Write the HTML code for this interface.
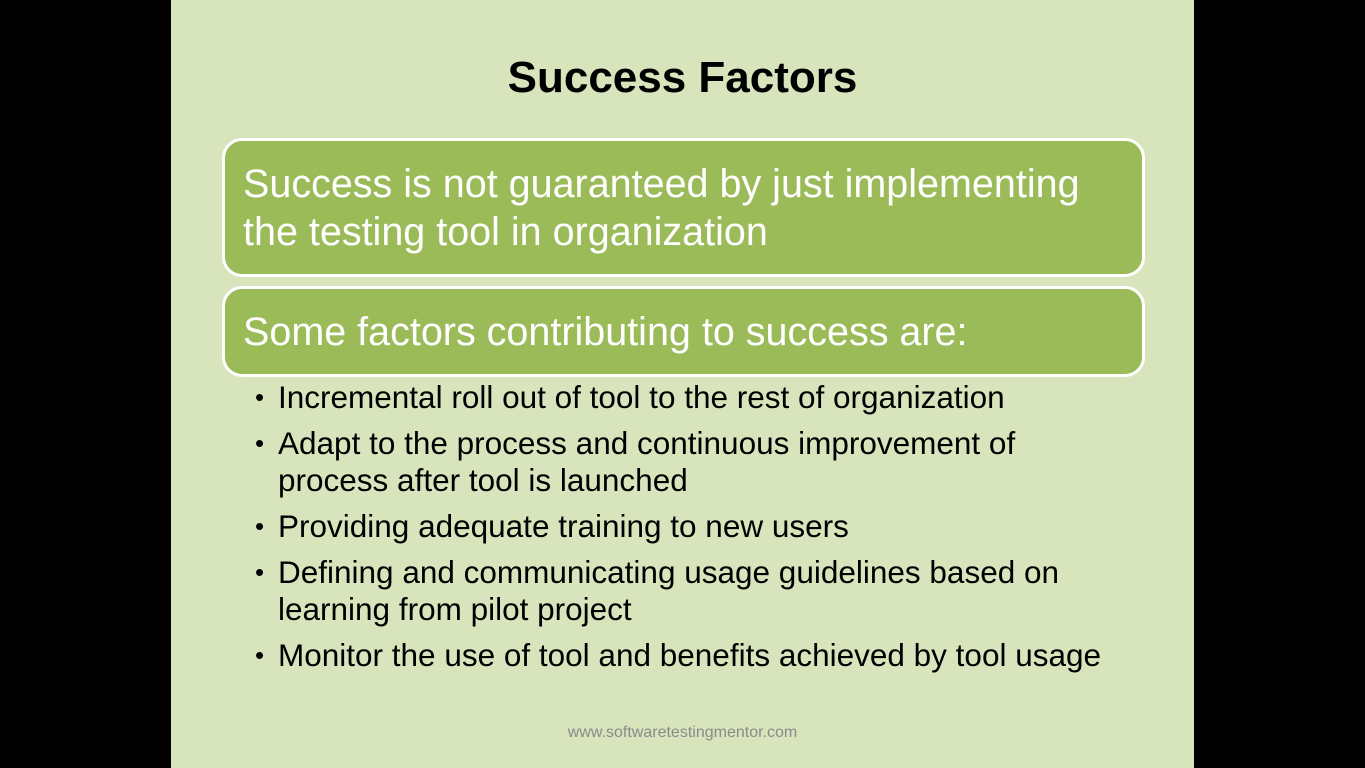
<!DOCTYPE html>
<html><head><meta charset="utf-8"><style>
html,body{margin:0;padding:0;width:1365px;height:768px;background:#000;overflow:hidden;font-family:"Liberation Sans",sans-serif;}
#slide{position:absolute;left:171px;top:0;width:1023px;height:768px;background:#d8e4bc;}
.title{position:absolute;left:0;width:1023px;top:53px;text-align:center;font-weight:bold;font-size:44px;color:#000;}
.box{position:absolute;left:51px;width:923px;background:#9bbb59;border:3px solid #fff;border-radius:20px;color:#fff;font-size:39.5px;line-height:48px;box-sizing:border-box;padding-left:18px;white-space:nowrap;}
.b1{top:138px;height:139px;padding-top:19px;}
.b2{top:286px;height:91px;padding-top:19px;}
ul{position:absolute;left:84px;top:379px;margin:0;padding:0;list-style:none;font-size:31.5px;color:#000;white-space:nowrap;}
li{position:relative;padding-left:23px;line-height:37px;margin-bottom:9px;}
li:before{content:"•";position:absolute;left:0;top:0;font-size:26px;}
.foot{position:absolute;left:0;width:1023px;top:724px;text-align:center;font-size:16px;color:#8a8a8a;}
</style></head><body>
<div id="slide">
<div class="title">Success Factors</div>
<div class="box b1">Success is not guaranteed by just implementing<br>the testing tool in organization</div>
<div class="box b2">Some factors contributing to success are:</div>
<ul>
<li>Incremental roll out of tool to the rest of organization</li>
<li>Adapt to the process and continuous improvement of<br>process after tool is launched</li>
<li>Providing adequate training to new users</li>
<li>Defining and communicating usage guidelines based on<br>learning from pilot project</li>
<li>Monitor the use of tool and benefits achieved by tool usage</li>
</ul>
<div class="foot">www.softwaretestingmentor.com</div>
</div>
</body></html>
